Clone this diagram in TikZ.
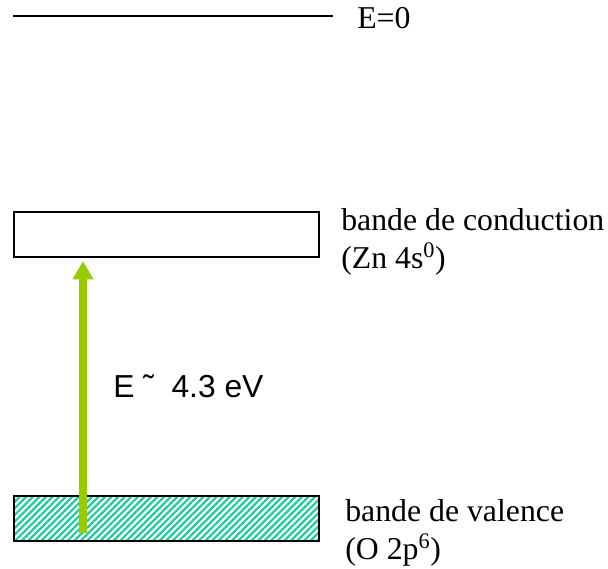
\documentclass[tikz,border=0pt]{standalone}
\usepackage{fontspec}
\setmainfont{Liberation Serif}
\setsansfont{Liberation Sans}
\usetikzlibrary{arrows.meta,patterns.meta}
\definecolor{hatchgreen}{RGB}{30,205,155}
\definecolor{gapgreen}{RGB}{153,204,0}

\begin{document}
\begin{tikzpicture}[x=0.025cm,y=-0.025cm]
\tikzset{
  band/.style={draw,line width=1.6pt,inner sep=0pt,minimum width=7.625cm,minimum height=1.125cm,anchor=north west},
  bandlabel/.style={anchor=west,inner sep=0pt,align=left,font=\fontsize{22.6}{27}\selectfont},
  gaparrow/.style={-{Triangle[width=14pt,length=13pt]},line width=5pt,gapgreen},
  level/.style={line width=1.5pt}
}
\useasboundingbox (0,0) rectangle (608,569);
% vacuum level
\coordinate (lvl_a) at (13,16);
\coordinate (lvl_b) at (333,16);
\draw[level] (lvl_a) -- (lvl_b);
\node[bandlabel] (n_E0) at (357,18) {E=0};
% bands
\node[band] (n_cond) at (13,211) {};
\node[band,pattern={Lines[angle=45,distance=3.3pt,line width=1.6pt]},pattern color=hatchgreen] (n_val) at (13,495) {};
\node[bandlabel] (n_condtxt) at (341,241.5) {bande de conduction\\(Zn 4s\textsuperscript{0})};
\node[bandlabel] (n_valtxt) at (345,532.5) {bande de valence\\(O 2p\textsuperscript{6})};
% gap
\coordinate (gap_bot) at (83,533);
\coordinate (gap_top) at (83,261);
\draw[gaparrow] (gap_bot) -- (gap_top);
\node[anchor=base west,inner sep=0pt,font=\sffamily\fontsize{22.6}{27}\selectfont] (n_gap) at (113,398) {E ˜\ \ 4.3 eV};
\end{tikzpicture}
\end{document}
